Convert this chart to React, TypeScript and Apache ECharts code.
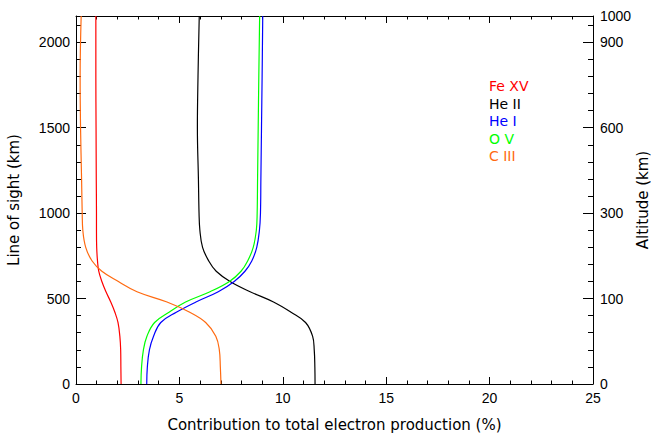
import React, { useEffect, useRef } from "react";
import * as echarts from "echarts";

// Line of sight (km) sample levels
const los = [0, 100, 200, 280, 360, 420, 480, 540, 600, 660, 720, 800, 900, 1000, 1200, 1500, 1800, 2154];

// Contribution to total electron production (%)
const feXV = [2.18, 2.17, 2.16, 2.12, 2.03, 1.88, 1.68, 1.45, 1.25, 1.1, 1.04, 1.0, 0.99, 0.99, 0.98, 0.97, 0.96, 0.96];
const heII = [11.56, 11.55, 11.52, 11.44, 11.1, 10.4, 9.55, 8.42, 7.45, 6.78, 6.42, 6.12, 5.99, 5.95, 5.92, 5.87, 5.9, 5.96];
const heI = [3.42, 3.45, 3.55, 3.75, 4.1, 4.85, 5.8, 6.88, 7.65, 8.17, 8.5, 8.74, 8.87, 8.92, 8.94, 8.97, 9.0, 9.03];
const oV = [3.14, 3.17, 3.26, 3.43, 3.8, 4.5, 5.3, 6.48, 7.42, 7.98, 8.3, 8.57, 8.72, 8.76, 8.78, 8.81, 8.84, 8.88];
const cIII = [7.01, 6.98, 6.93, 6.76, 6.27, 5.5, 4.4, 2.95, 2.05, 1.25, 0.78, 0.47, 0.33, 0.3, 0.27, 0.22, 0.2, 0.25];

const seriesNames = ["Fe XV", "He II", "He I", "O V", "C III"];
const seriesColors = ["#ff0000", "#000000", "#0000ff", "#00ff00", "#ff6a10"];
const seriesValues = [feXV, heII, heI, oV, cIII];

// Axis ranges and tick labels
const xMin = 0;
const xMax = 25;
const xInterval = 5;
const losMin = 0;
const losMax = 2154;
const losInterval = 500;
const losMinorInterval = 100;
const altitudeTickLos = [0, 500, 1000, 1500, 2000, 2154];
const altitudeLabels = ["0", "100", "300", "600", "900", "1000"];
const altitudeTitle = "Altitude (km)";

const FONT = "Liberation Sans, Arial, Helvetica, sans-serif";
const TITLE_FONT = "DejaVu Sans, Verdana, sans-serif";

export default function App() {
  const ref = useRef<HTMLDivElement>(null);

  useEffect(() => {
    if (!ref.current) return;
    const chart = echarts.init(ref.current, null, { renderer: "svg" });

    const axisLine = { show: true, onZero: false, lineStyle: { color: "#000", width: 1 } };

    const baseX = {
      type: "value" as const,
      min: xMin,
      max: xMax,
      interval: xInterval,
      splitLine: { show: false },
      axisLine,
      axisTick: { show: true, inside: true, length: 7, lineStyle: { color: "#000" } },
      minorTick: { show: true, splitNumber: 5, length: 3.5, lineStyle: { color: "#000" } },
    };

    const baseY = {
      type: "value" as const,
      min: losMin,
      max: losMax,
      splitLine: { show: false },
    };

    const titleStyle = { fontFamily: TITLE_FONT, fontSize: 15, color: "#000" };

    const legendTexts = seriesNames.map((name, i) => ({
      type: "text",
      left: 489,
      top: 79 + i * 17.5,
      style: {
        text: name,
        fill: seriesColors[i],
        font: `14px ${TITLE_FONT}`,
      },
    }));

    const option = {
      animation: false,
      grid: { left: 76, right: 58, top: 16, bottom: 50, containLabel: false, outerBoundsMode: "none" },
      xAxis: [
        {
          ...baseX,
          position: "bottom",
          name: "Contribution to total electron production (%)",
          nameLocation: "middle",
          nameGap: 33,
          nameTextStyle: titleStyle,
          axisLabel: { show: true, margin: 7, fontFamily: FONT, fontSize: 14, color: "#000" },
        },
        {
          ...baseX,
          position: "top",
          axisLabel: { show: false },
        },
      ],
      yAxis: [
        {
          ...baseY,
          position: "left",
          interval: losInterval,
          axisLine,
          name: "Line of sight (km)",
          nameLocation: "middle",
          nameRotate: 90,
          nameGap: 55,
          nameTextStyle: titleStyle,
          axisTick: { show: true, inside: true, length: 10, lineStyle: { color: "#000" } },
          axisLabel: {
            show: true,
            margin: 6,
            showMaxLabel: false,
            fontFamily: FONT,
            fontSize: 14,
            color: "#000",
            formatter: (v: number) => (v % losInterval === 0 ? String(v) : ""),
          },
        },
        {
          ...baseY,
          position: "left",
          interval: losMinorInterval,
          axisLine: { show: false, onZero: false },
          axisTick: { show: true, inside: true, length: 5, lineStyle: { color: "#000" } },
          axisLabel: { show: false },
        },
        {
          ...baseY,
          position: "right",
          interval: losInterval,
          axisLine,
          axisTick: { show: true, inside: true, length: 10, lineStyle: { color: "#000" } },
          axisLabel: {
            show: true,
            margin: 7,
            showMaxLabel: true,
            showMinLabel: true,
            padding: [0, 0, 6, 0],
            fontFamily: FONT,
            fontSize: 14,
            color: "#000",
            formatter: (v: number) => {
              const i = altitudeTickLos.findIndex((t) => Math.abs(t - v) < 0.5);
              return i >= 0 ? altitudeLabels[i] : "";
            },
          },
        },
        {
          ...baseY,
          position: "right",
          interval: losMinorInterval,
          axisLine: { show: false, onZero: false },
          axisTick: { show: true, inside: true, length: 5, lineStyle: { color: "#000" } },
          axisLabel: { show: false },
        },
      ],
      graphic: [
        ...legendTexts,
        {
          type: "text",
          x: 643,
          y: 200,
          rotation: Math.PI / 2,
          style: {
            text: altitudeTitle,
            fill: "#000",
            font: `15px ${TITLE_FONT}`,
            align: "center",
            verticalAlign: "middle",
          },
        },
      ],
      series: seriesValues.map((vals, i) => ({
        name: seriesNames[i],
        type: "line",
        xAxisIndex: 0,
        yAxisIndex: 0,
        showSymbol: false,
        smooth: 0.4,
        lineStyle: { color: seriesColors[i], width: 1.2 },
        itemStyle: { color: seriesColors[i] },
        data: vals.map((v, j) => [v, los[j]]),
      })),
    };

    chart.setOption(option as any);
    return () => chart.dispose();
  }, []);

  return (
    <div
      ref={ref}
      style={{ position: "absolute", left: 0, top: 0, width: 651, height: 434, background: "#fff" }}
    />
  );
}
